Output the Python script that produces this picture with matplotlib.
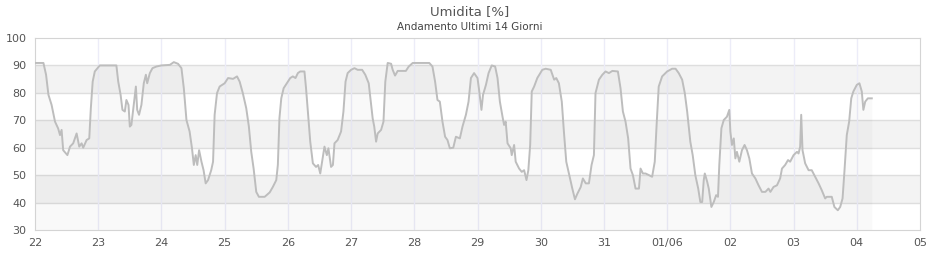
import numpy as np
from matplotlib import pyplot as plt

# hours since 22/05 00:00 and humidity readings
hours = [0, 3.2, 4.2, 5.1, 6.3, 7.6, 8.8, 9.5, 10.1, 10.7, 12.3, 13.3, 14.5, 15.8, 16.8, 17.7, 18.3, 19.6, 20.6,
         21.2, 21.9, 22.7, 24.6, 30.9, 31.6, 32.5, 33.2, 34.1, 34.7, 35.5, 36, 36.6, 37.5, 38.3, 38.8, 39.5,
         40.4, 41.3, 42.1, 42.6, 43.6, 44.6, 46.1, 48, 51.2, 52.7, 54.3, 55.6, 56.5, 57.5, 58.7, 59.6, 60.3,
         61, 61.6, 62.3, 63.2, 64, 64.8, 65.7, 66.9, 67.6, 68.2, 69.1, 70.1, 72, 73.3, 75.2, 76.7, 77.7, 78.9,
         80.2, 81.2, 82.1, 83, 84, 85, 87.2, 89.1, 90.3, 91.6, 92.2, 92.8, 93.5, 94.4, 96, 96.9, 97.9, 98.9,
         99.8, 100.7, 102.3, 102.9, 103.6, 104.5, 105.5, 106.7, 107.5, 108.3, 109, 109.9, 110.8, 111.4, 112.4,
         113.1, 113.7, 114.9, 116.2, 117.1, 117.9, 118.7, 120, 121.3, 122.5, 124.2, 125.4, 126.7, 127.6, 128.2,
         128.8, 129.5, 130.1, 131.4, 132.3, 133, 133.9, 135.2, 135.8, 136.7, 137.7, 140.8, 141.9, 143.4, 149.7,
         150.9, 151.9, 152.8, 153.7, 154.7, 155.7, 156.6, 157.5, 158.8, 159.8, 161.3, 162.3, 163.6, 164.6,
         165.5, 166.7, 168, 168.6, 169.5, 170.1, 171.2, 172.2, 173.4, 174.7, 175.6, 176.5, 177.5, 178.1, 178.7,
         179.4, 180.6, 181, 181.9, 182.5, 183.8, 184.8, 185.7, 186.6, 187.3, 188, 188.6, 189.5, 190.7, 192.6,
         193.9, 195.8, 197.1, 197.9, 198.9, 200, 200.8, 201.7, 202.7, 204, 205, 205.9, 207.2, 208, 209.1,
         210.3, 211.3, 212.2, 212.8, 214.1, 215.4, 216.6, 217.9, 219.2, 221.3, 222.3, 223.2, 224.2, 225.2,
         226.1, 227, 228, 229.3, 229.9, 230.8, 231.8, 233.1, 234.3, 235.3, 236, 236.8, 238.1, 240, 241.9,
         243.2, 244.4, 245.7, 246.7, 247.6, 248.8, 249.7, 250.7, 251.8, 252.6, 253.3, 253.9, 254.3, 255.2,
         255.8, 256.8, 257.7, 258.6, 259.3, 259.8, 260.6, 261.5, 262.7, 263.6, 264, 264.6, 265.3, 265.9,
         266.5, 267.4, 268.4, 269.4, 270.3, 271.2, 272.2, 273.5, 274.7, 276, 277.3, 278.5, 279.2, 280.4,
         281.7, 282.9, 283.6, 284.8, 285.9, 286.7, 288, 289.3, 289.9, 290.5, 290.9, 291.4, 292.4, 293.7,
         294.9, 296.2, 297.5, 298.7, 300, 300.6, 302.5, 303.5, 304.8, 305.7, 306.6, 307.3, 308.2, 309.1,
         309.9, 310.7, 312, 313, 313.9, 314.5, 315.2, 316.2, 317.7]
umidita = [90.9, 90.9, 86.6, 79.3, 75.6, 69.5, 67, 64.6, 66.5, 59.1, 57.3, 60.4, 61.6, 65.2, 60.4, 61.6, 60, 62.8, 63.4,
           74.4, 84.1, 87.8, 90, 90, 84.1, 79.3, 73.8, 73.2, 77.4, 75.6, 67.7, 68.3, 75.6, 82.3, 73.8, 72,
           75.6, 83.5, 86.6, 83.5, 87.2, 89, 89.6, 90, 90.2, 91.2, 90.6, 89, 81.7, 70.1, 65.9, 59.8, 53.7,
           57.3, 53.7, 59.1, 54.9, 51.8, 47, 48.2, 51.8, 54.9, 72, 79.9, 82.3, 83.5, 85.4, 85.1, 86, 84.1, 79.9,
           74.4, 67.7, 58.5, 52.4, 43.9, 42.1, 42.1, 43.7, 45.7, 48.2, 53.7, 70.7, 78, 81.7, 84.1, 85.4, 86, 85.4,
           87.2, 87.8, 87.8, 81.7, 73.2, 62.2, 54.3, 53, 53.7, 50.6, 54.9, 60.4, 57.3, 59.8, 53,
           53.7, 61.6, 62.8, 65.9, 73.2, 84.1, 87.2, 88.4, 89, 88.4, 88.4, 86.6, 83.5, 75.6, 70.7,
           67.7, 62.2, 65.2, 66.5, 69.5, 84.1, 90.9, 90.6, 88.4, 86.3, 88, 88, 89.6, 90.9, 90.9,
           89.6, 84.1, 77.4, 76.8, 69.5, 64, 62.8, 59.8, 60, 64, 63.4, 67.7, 72, 76.8,
           85.4, 87.2, 85.4, 81.1, 73.8, 79.3, 82.9, 87.2, 90, 89.6, 85.4, 76.8, 71.3, 68.3, 69.5,
           61.6, 59.8, 57.3, 61, 54.9, 52.4, 51.2, 51.8, 48.2, 51.8, 61, 80.5, 82.3, 85.4, 88.4,
           88.8, 88.4, 84.8, 85.4, 83.5, 76.8, 65.9, 54.9, 50.6, 45.1, 41.2, 43.2, 45.7, 48.8, 47,
           47, 53.7, 57.3, 79.9, 84.8, 86.6, 87.8, 87.2, 88, 87.8, 81.7, 73.2, 69.5, 63.4,
           52.4, 50, 45.1, 45.1, 52.4, 50.6, 50.6, 50, 49.4, 54.9, 68.3, 82.3, 86, 87.8, 88.8,
           88.8, 87.2, 84.8, 79.9, 73.2, 62.2, 57.3, 50, 45.1, 40.2, 40.2, 48.2, 50.6, 47.6,
           45.1, 38.4, 40.2, 42.7, 42.1, 53.7, 67.1, 70.1, 71.3, 73.8, 65.9, 61, 63.4, 56.1,
           58.5, 54.9, 59.1, 61, 59.1, 56.1, 50.6, 48.8, 46.3, 43.9, 43.9, 45.1, 43.9, 45.7,
           46.3, 48.8, 52.4, 53.7, 55.5, 54.9, 57.3, 58.5, 57.9, 60.4, 72, 59.1, 54.3, 51.8,
           51.8, 49.4, 47, 44.5, 41.5, 42.1, 42.1, 38.4, 37.2, 38.4, 41.5, 51.2, 64.6, 69.5,
           78, 80.5, 82.9, 83.5, 80.5, 73.8, 76.8, 78, 78]

day_labels = ["22", "23", "24", "25", "26", "27", "28", "29", "30", "31", "01/06", "02", "03", "04", "05"]
y_ticks = [30, 40, 50, 60, 70, 80, 90, 100]

x = np.array(hours) / 24.0
y = np.array(umidita)

fig = plt.figure(figsize=(9.4, 2.6), dpi=100)
ax = fig.add_axes([35/940, 30/260, 885/940, 192/260])

for lo in [40, 60, 80]:
    ax.axhspan(lo, lo + 10, color='#f3f3f3', lw=0, zorder=0)
for t in y_ticks[1:-1]:
    ax.axhline(t, color='#dedede', lw=1, zorder=1)
for d in range(1, 14):
    ax.axvline(d, color='#ececf8', lw=1, zorder=1)

ax.fill_between(x, y, 30, color='black', alpha=0.025, lw=0, zorder=2)
ax.plot(x, y, color='#bdbdbd', lw=1.4, zorder=3)

ax.set_xlim(0, 14)
ax.set_ylim(30, 100)
ax.set_xticks(range(15))
ax.set_xticklabels(day_labels)
ax.set_yticks(y_ticks)
ax.tick_params(length=0, labelsize=8, colors='#555555')
ax.tick_params(axis='x', pad=6)
ax.tick_params(axis='y', pad=6)
for s in ax.spines.values():
    s.set_color('#d4d4d4')

fig.text(0.5, 1 - 12/260, "Umidita [%]", ha='center', va='center', fontsize=9.5, color='#555555')
fig.text(0.5, 1 - 27/260, "Andamento Ultimi 14 Giorni", ha='center', va='center', fontsize=7.5, color='#444444')

plt.savefig("out.png", dpi=100)
